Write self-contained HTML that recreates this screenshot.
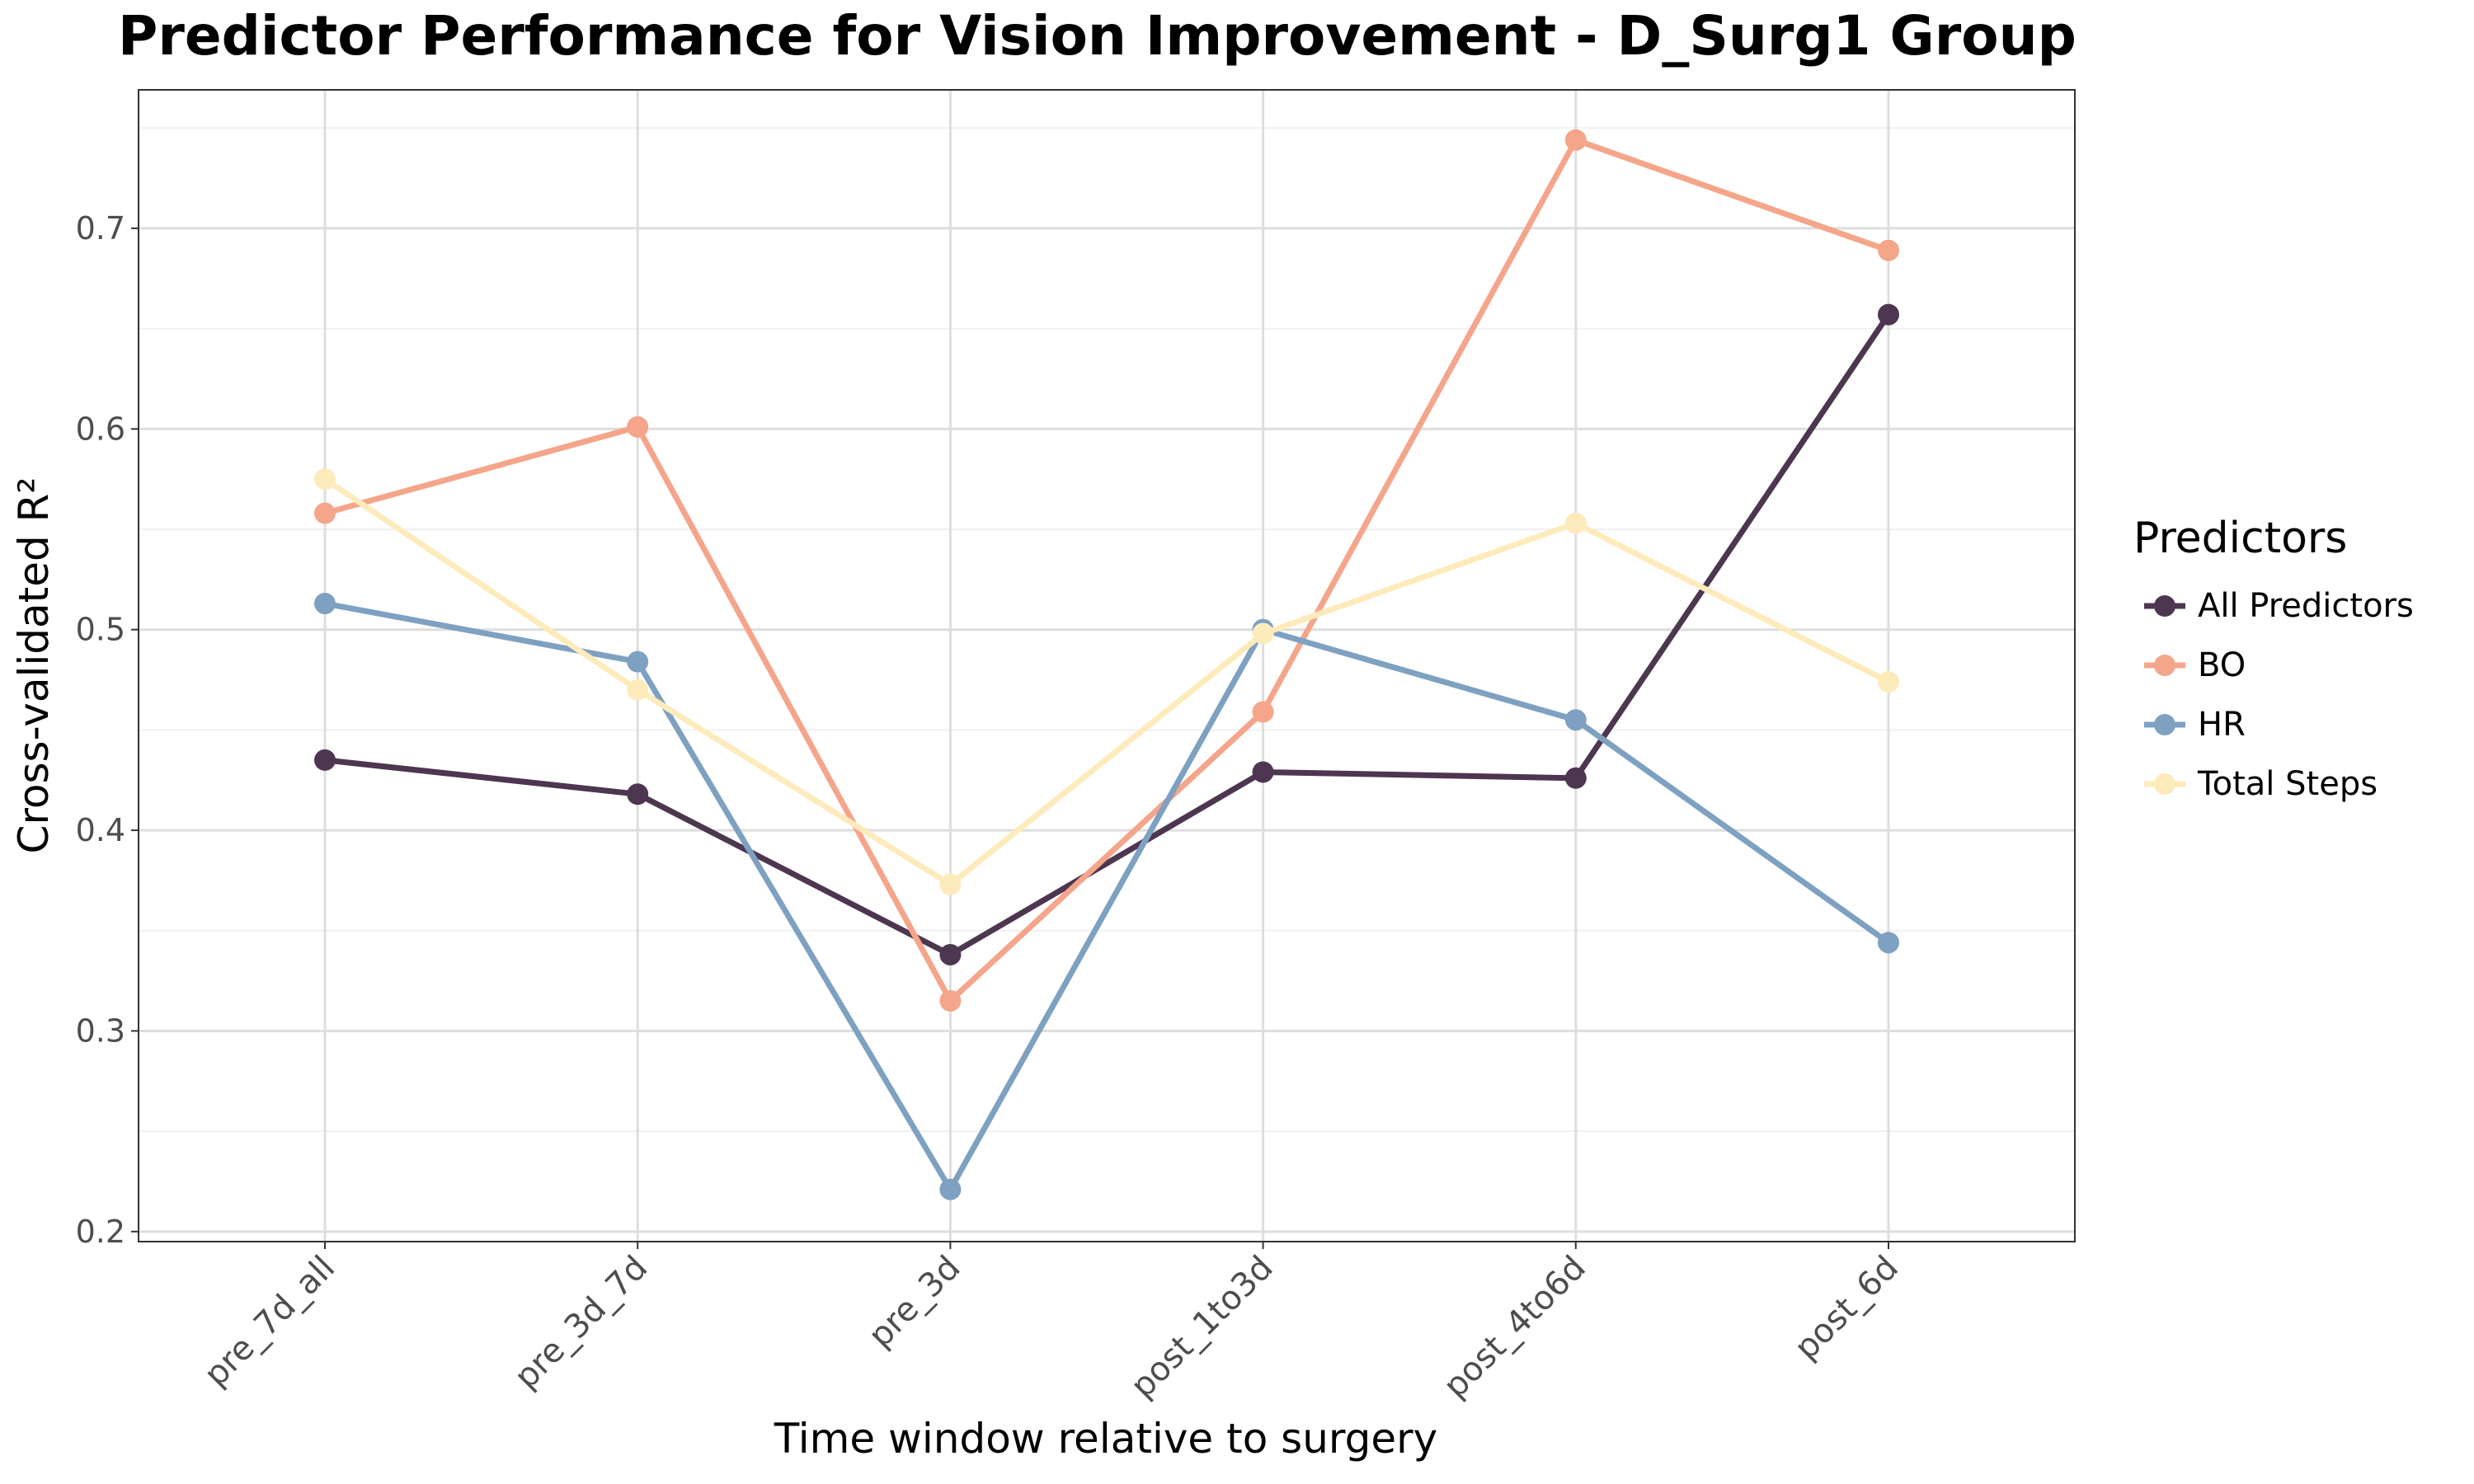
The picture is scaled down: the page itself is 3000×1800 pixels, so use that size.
<!DOCTYPE html>
<html><head><meta charset="utf-8"><style>
html,body{margin:0;padding:0;background:#fff;}
svg{display:block;font-family:"DejaVu Sans","Liberation Sans",sans-serif;}
</style></head><body>
<svg id="chart" width="3000" height="1800" viewBox="0 0 3000 1800">
<text x="143" y="66" font-size="66" font-weight="bold" fill="#000">Predictor Performance for Vision Improvement - D_Surg1 Group</text>
<g id="grid"></g>
<g id="series"></g>
<rect x="168" y="109" width="2348" height="1397" fill="none" stroke="#333" stroke-width="2"/>
<g id="axes"></g>
<text x="1341" y="1762" font-size="50" text-anchor="middle" fill="#000">Time window relative to surgery</text>
<text x="0" y="0" font-size="50" text-anchor="middle" fill="#000" transform="translate(58,807) rotate(-90)">Cross-validated R²</text>
<g id="legend">
<text x="2587" y="670" font-size="52" fill="#000">Predictors</text>
</g>
</svg>
<script>
const categories = ["pre_7d_all","pre_3d_7d","pre_3d","post_1to3d","post_4to6d","post_6d"];
const seriesNames = ["All Predictors","BO","HR","Total Steps"];
const allPredictors = [0.435,0.418,0.338,0.429,0.426,0.657];
const bo = [0.558,0.601,0.315,0.459,0.744,0.689];
const hr = [0.513,0.484,0.221,0.500,0.455,0.344];
const totalSteps = [0.575,0.470,0.373,0.498,0.553,0.474];
const yTicks = [0.2,0.3,0.4,0.5,0.6,0.7];
const yMinor = [0.25,0.35,0.45,0.55,0.65,0.75];

const NS="http://www.w3.org/2000/svg";
const colors=["#4d3650","#f4a58a","#7ea1c1","#fdebbc"];
const seriesVals=[allPredictors,bo,hr,totalSteps];
const x0=168,x1=2516,y0=109,y1=1506;
const yLo=0.195,yHi=0.769;
function yS(v){return y1-(v-yLo)/(yHi-yLo)*(y1-y0);}
function xS(i){return 394+i*379.2;}
function mk(tag,attrs,parent){const e=document.createElementNS(NS,tag);for(const k in attrs)e.setAttribute(k,attrs[k]);parent.appendChild(e);return e;}
const grid=document.getElementById('grid'),axes=document.getElementById('axes'),ser=document.getElementById('series'),leg=document.getElementById('legend');
yMinor.forEach(v=>{const l=mk('line',{x1:x0,x2:x1,y1:yS(v),y2:yS(v),stroke:'#f0f0f0','stroke-width':2},grid);

});
yTicks.forEach(v=>{const l=mk('line',{x1:x0,x2:x1,y1:yS(v),y2:yS(v),stroke:'#dedede','stroke-width':3},grid);


const t=mk('line',{x1:x0-9,x2:x0,y1:yS(v),y2:yS(v),stroke:'#333','stroke-width':2},axes);


const tx=mk('text',{x:x0-16,y:yS(v)+13,'font-size':38,'text-anchor':'end',fill:'#4d4d4d'},axes);
tx.textContent=v.toFixed(1);

});
categories.forEach((c,i)=>{const x=xS(i);
const l=mk('line',{x1:x,x2:x,y1:y0,y2:y1,stroke:'#dedede','stroke-width':3},grid);


const t=mk('line',{x1:x,x2:x,y1:y1,y2:y1+9,stroke:'#333','stroke-width':2},axes);


const tx=mk('text',{x:0,y:0,'font-size':40,'text-anchor':'end',fill:'#4d4d4d',transform:`translate(${x+14},${y1+34}) rotate(-45)`},axes);
tx.textContent=c;

});
seriesVals.forEach((vals,s)=>{
const pts=vals.map((v,i)=>xS(i)+','+yS(v)).join(' ');
const pl=mk('polyline',{points:pts,fill:'none',stroke:colors[s],'stroke-width':7,'stroke-linejoin':'round'},ser);


vals.forEach((v,i)=>{const c=mk('circle',{cx:xS(i),cy:yS(v),r:13,fill:colors[s]},ser);

});
const ly=735+s*72;
const ll=mk('line',{x1:2600,x2:2650,y1:ly,y2:ly,stroke:colors[s],'stroke-width':7},leg);


const lc=mk('circle',{cx:2625,cy:ly,r:13,fill:colors[s]},leg);


const lt=mk('text',{x:2665,y:ly+13,'font-size':40,fill:'#000'},leg);
lt.textContent=seriesNames[s];

});
</script>
</body></html>
